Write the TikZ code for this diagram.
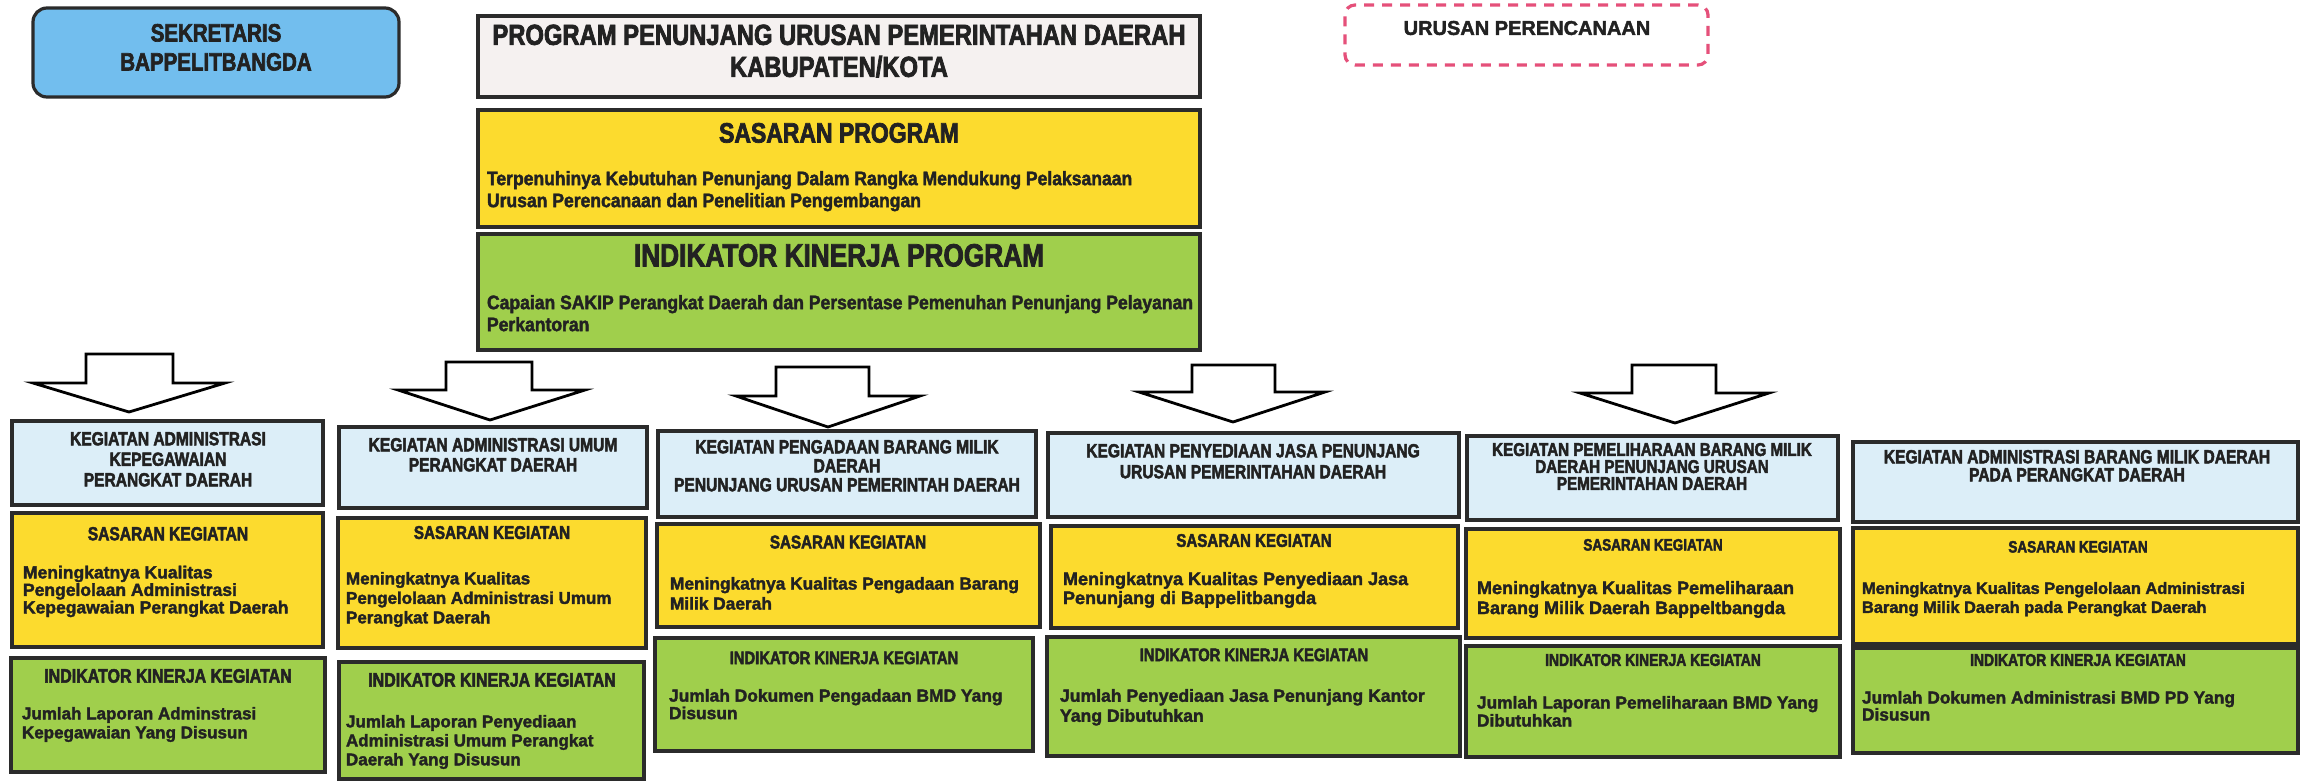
\documentclass[tikz,border=0pt]{standalone}
\usepackage{fontspec}
\setmainfont{Liberation Sans}
\newfontfamily\hdfam{Liberation Sans}[FakeStretch=0.82, FakeBold=2.5]
\newfontfamily\pgfam{Liberation Sans}[FakeStretch=0.9, FakeBold=2]
\newfontfamily\bdfam{Liberation Sans}[FakeBold=2]
\newcommand\HdFont[2]{\hdfam\bfseries\fontsize{#1}{#2}\selectfont}
\newcommand\PgFont[2]{\pgfam\bfseries\fontsize{#1}{#2}\selectfont}
\newcommand\BdFont[2]{\bdfam\bfseries\fontsize{#1}{#2}\selectfont}
\definecolor{ink}{HTML}{222222}
\definecolor{edge}{HTML}{2B2B2B}
\definecolor{sekblue}{HTML}{72BEEE}
\definecolor{progwhite}{HTML}{F5F1F0}
\definecolor{yel}{HTML}{FCDB2E}
\definecolor{grn}{HTML}{A0CF4C}
\definecolor{lblue}{HTML}{DCEEF8}
\definecolor{dashred}{HTML}{E5507A}
\tikzset{
  boxst/.style={draw=edge, line width=3.2pt, inner sep=0pt, outer sep=0pt, anchor=north west},
  txt/.style={text=ink, inner sep=0pt, outer sep=0pt},
  ttl/.style={txt, anchor=north, align=center},
  bdy/.style={txt, anchor=north west, align=left},
  blockarrow/.style={draw=black, fill=white, line width=2.8pt, line join=miter},
}
\newcommand\Bx[6]{\node[boxst, fill=#2, minimum width={#5-#3}, minimum height={#6-#4}] (#1) at (#3,#4) {};}
\newcommand\BlockArrow[7]{% shaft left, shaft right, top, head y, head left, head right, tip coordinate
  \draw[blockarrow] (#1,#3) -- (#2,#3) -- (#2,#4) -- (#6,#4) -- (#7) -- (#5,#4) -- (#1,#4) -- cycle;}
\begin{document}
\begin{tikzpicture}[x=1pt,y=-1pt]
\path[use as bounding box, fill=white] (0,0) rectangle (2301,780);
\clip (0,0) rectangle (2301,780);

% ---------- top row ----------
\node[boxst, fill=sekblue, rounded corners=14pt, minimum width=366pt, minimum height=89pt] (sek) at (33,8) {};
\node[ttl, font=\HdFont{25}{29}] (sekt) at (216,24) {SEKRETARIS\\BAPPELITBANGDA};

\Bx{prog}{progwhite}{478}{16}{1200}{97}
\node[ttl, font=\HdFont{29}{32}] (progt) at (839,24.6) {PROGRAM PENUNJANG URUSAN PEMERINTAHAN DAERAH\\KABUPATEN/KOTA};

\node[boxst, fill=white, draw=dashred, dash pattern=on 10pt off 8pt, rounded corners=10pt, minimum width=363pt, minimum height=60pt] (urusan) at (1345,5) {};
\node[txt, font=\BdFont{20}{24}] (urusant) at (1527,28) {URUSAN PERENCANAAN};

\Bx{sp}{yel}{478}{110}{1200}{227}
\node[ttl, font=\HdFont{28}{32}] (spt) at (839,123) {SASARAN PROGRAM};
\node[bdy, font=\PgFont{19.5}{22}] (spb) at (487,171) {Terpenuhinya Kebutuhan Penunjang Dalam Rangka Mendukung Pelaksanaan\\Urusan Perencanaan dan Penelitian Pengembangan};

\Bx{ikp}{grn}{478}{234}{1200}{350}
\node[ttl, font=\HdFont{32}{34}] (ikpt) at (839,244) {INDIKATOR KINERJA PROGRAM};
\node[bdy, font=\PgFont{19.5}{22}] (ikpb) at (487,295) {Capaian SAKIP Perangkat Daerah dan Persentase Pemenuhan Penunjang Pelayanan\\Perkantoran};

% ---------- block arrows ----------
\coordinate (a1) at (129,412);
\coordinate (a2) at (490,420);
\coordinate (a3) at (828,427);
\coordinate (a4) at (1233,422);
\coordinate (a5) at (1675,423);
\BlockArrow{86}{173}{354}{383}{33}{225}{a1}
\BlockArrow{446}{532}{362}{390}{398}{585}{a2}
\BlockArrow{776}{869}{367}{396}{736}{920}{a3}
\BlockArrow{1192}{1275}{365}{392}{1139}{1325}{a4}
\BlockArrow{1632}{1716}{365}{393}{1580}{1769}{a5}

% ---------- column 1 ----------
\Bx{k1}{lblue}{12}{421}{323}{505}
\node[ttl, font=\HdFont{19}{20.5}] (k1t) at (168,432) {KEGIATAN ADMINISTRASI\\KEPEGAWAIAN\\PERANGKAT DAERAH};
\Bx{s1}{yel}{12}{513}{323}{647}
\node[ttl, font=\HdFont{19}{22}] (s1t) at (168,527) {SASARAN KEGIATAN};
\node[bdy, font=\BdFont{17.5}{17.5}] (s1b) at (23,565.7) {Meningkatnya Kualitas\\Pengelolaan Administrasi\\Kepegawaian Perangkat Daerah};
\Bx{i1}{grn}{11}{658}{325}{772}
\node[ttl, font=\HdFont{19.5}{22}] (i1t) at (168,669) {INDIKATOR KINERJA KEGIATAN};
\node[bdy, font=\BdFont{17}{19}] (i1b) at (22,707) {Jumlah Laporan Adminstrasi\\Kepegawaian Yang Disusun};

% ---------- column 2 ----------
\Bx{k2}{lblue}{339}{427}{647}{508}
\node[ttl, font=\HdFont{19}{20}] (k2t) at (493,438) {KEGIATAN ADMINISTRASI UMUM\\PERANGKAT DAERAH};
\Bx{s2}{yel}{338}{518}{646}{648}
\node[ttl, font=\HdFont{18.5}{22}] (s2t) at (492,526) {SASARAN KEGIATAN};
\node[bdy, font=\BdFont{17}{19.5}] (s2b) at (346,572) {Meningkatnya Kualitas\\Pengelolaan Administrasi Umum\\Perangkat Daerah};
\Bx{i2}{grn}{339}{662}{644}{779}
\node[ttl, font=\HdFont{19.5}{22}] (i2t) at (492,673) {INDIKATOR KINERJA KEGIATAN};
\node[bdy, font=\BdFont{17}{19}] (i2b) at (346,715) {Jumlah Laporan Penyediaan\\Administrasi Umum Perangkat\\Daerah Yang Disusun};

% ---------- column 3 ----------
\Bx{k3}{lblue}{658}{431}{1036}{517}
\node[ttl, font=\HdFont{19}{19}] (k3t) at (847,440) {KEGIATAN PENGADAAN BARANG MILIK\\DAERAH\\PENUNJANG URUSAN PEMERINTAH DAERAH};
\Bx{s3}{yel}{657}{524}{1040}{627}
\node[ttl, font=\HdFont{18.5}{22}] (s3t) at (848,535.5) {SASARAN KEGIATAN};
\node[bdy, font=\BdFont{17.3}{20}] (s3b) at (670,577) {Meningkatnya Kualitas Pengadaan Barang\\Milik Daerah};
\Bx{i3}{grn}{655}{638}{1033}{751}
\node[ttl, font=\HdFont{18}{22}] (i3t) at (844,651.5) {INDIKATOR KINERJA KEGIATAN};
\node[bdy, font=\BdFont{17.4}{17.5}] (i3b) at (669,689) {Jumlah Dokumen Pengadaan BMD Yang\\Disusun};

% ---------- column 4 ----------
\Bx{k4}{lblue}{1048}{433}{1459}{517}
\node[ttl, font=\HdFont{19}{21}] (k4t) at (1253,444) {KEGIATAN PENYEDIAAN JASA PENUNJANG\\URUSAN PEMERINTAHAN DAERAH};
\Bx{s4}{yel}{1051}{526}{1458}{628}
\node[ttl, font=\HdFont{18.4}{22}] (s4t) at (1254,534) {SASARAN KEGIATAN};
\node[bdy, font=\BdFont{18}{19}] (s4b) at (1063,572) {Meningkatnya Kualitas Penyediaan Jasa\\Penunjang di Bappelitbangda};
\Bx{i4}{grn}{1047}{637}{1460}{756}
\node[ttl, font=\HdFont{18}{22}] (i4t) at (1254,648.5) {INDIKATOR KINERJA KEGIATAN};
\node[bdy, font=\BdFont{17.6}{20}] (i4b) at (1060,689) {Jumlah Penyediaan Jasa Penunjang Kantor\\Yang Dibutuhkan};

% ---------- column 5 ----------
\Bx{k5}{lblue}{1467}{436}{1838}{520}
\node[ttl, font=\HdFont{18.5}{17}] (k5t) at (1652,443) {KEGIATAN PEMELIHARAAN BARANG MILIK\\DAERAH PENUNJANG URUSAN\\PEMERINTAHAN DAERAH};
\Bx{s5}{yel}{1466}{529}{1840}{638}
\node[ttl, font=\HdFont{16.5}{20}] (s5t) at (1653,539) {SASARAN KEGIATAN};
\node[bdy, font=\BdFont{18}{20}] (s5b) at (1477,581) {Meningkatnya Kualitas Pemeliharaan\\Barang Milik Daerah Bappeltbangda};
\Bx{i5}{grn}{1466}{646}{1840}{757}
\node[ttl, font=\HdFont{17}{20}] (i5t) at (1653,654) {INDIKATOR KINERJA KEGIATAN};
\node[bdy, font=\BdFont{17.3}{18}] (i5b) at (1477,696) {Jumlah Laporan Pemeliharaan BMD Yang\\Dibutuhkan};

% ---------- column 6 ----------
\Bx{k6}{lblue}{1853}{442}{2298}{522}
\node[ttl, font=\HdFont{19}{18}] (k6t) at (2077,450) {KEGIATAN ADMINISTRASI BARANG MILIK DAERAH\\PADA PERANGKAT DAERAH};
\Bx{s6}{yel}{1853}{528}{2298}{644}
\node[ttl, font=\HdFont{16.5}{20}] (s6t) at (2078,541) {SASARAN KEGIATAN};
\node[bdy, font=\BdFont{16.4}{19}] (s6b) at (1862,582) {Meningkatnya Kualitas Pengelolaan Administrasi\\Barang Milik Daerah pada Perangkat Daerah};
\Bx{i6}{grn}{1853}{648}{2298}{753}
\node[ttl, font=\HdFont{17}{20}] (i6t) at (2078,654) {INDIKATOR KINERJA KEGIATAN};
\node[bdy, font=\BdFont{17.3}{17}] (i6b) at (1862,691) {Jumlah Dokumen Administrasi BMD PD Yang\\Disusun};
\end{tikzpicture}
\end{document}
